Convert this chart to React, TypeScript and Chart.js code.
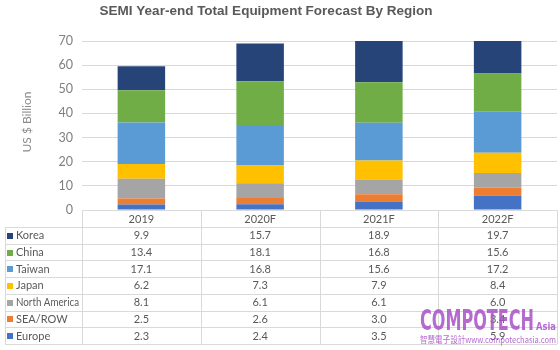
import React, { useEffect, useRef } from "react";
import { Chart, registerables } from "chart.js";

Chart.register(...registerables);

const categories = ["2019", "2020F", "2021F", "2022F"];
const korea = [9.9, 15.7, 18.9, 19.7];
const china = [13.4, 18.1, 16.8, 15.6];
const taiwan = [17.1, 16.8, 15.6, 17.2];
const japan = [6.2, 7.3, 7.9, 8.4];
const northAmerica = [8.1, 6.1, 6.1, 6.0];
const seaRow = [2.5, 2.6, 3.0, 3.4];
const europe = [2.3, 2.4, 3.5, 5.9];

const titleText = "SEMI Year-end Total Equipment Forecast By Region";
const yTitle = "US $ Billion";

// table row order (top to bottom)
const tableRows = [
  { label: "Korea", data: korea, color: "#264478" },
  { label: "China", data: china, color: "#70AD47" },
  { label: "Taiwan", data: taiwan, color: "#5B9BD5" },
  { label: "Japan", data: japan, color: "#FFC000" },
  { label: "North America", data: northAmerica, color: "#A5A5A5" },
  { label: "SEA/ROW", data: seaRow, color: "#ED7D31" },
  { label: "Europe", data: europe, color: "#4472C4" },
];

const TEXT = "#595959";
const GRID = "#d9d9d9";
const TABLE_FONT = "11px Lato, 'Liberation Sans', sans-serif";

const overlayPlugin = {
  id: "overlay",
  afterDraw(chart: any) {
    const ctx = chart.ctx as CanvasRenderingContext2D;
    const area = chart.chartArea;
    const xs = chart.scales.x;
    const n = categories.length;
    const colW = (area.right - area.left) / n;
    ctx.save();
    // title
    ctx.fillStyle = TEXT;
    ctx.font = "bold 13.5px 'Liberation Sans', Arial, sans-serif";
    ctx.textAlign = "center";
    ctx.textBaseline = "middle";
    ctx.fillText(titleText, 266, 11);
    // y title
    ctx.save();
    ctx.translate(27, 122);
    ctx.rotate(-Math.PI / 2);
    ctx.fillStyle = "#8c8c8c";
    ctx.font = "12px Lato, 'Liberation Sans', sans-serif";
    ctx.fillText(yTitle, 0, 0);
    ctx.restore();

    // table
    const top = area.bottom;
    const headH = 17;
    const rowH = 16.7;
    const tableLeft = 5;
    const bottom = top + headH + rowH * tableRows.length;
    ctx.strokeStyle = GRID;
    ctx.lineWidth = 1;
    ctx.beginPath();
    ctx.moveTo(area.left, Math.round(top) + 0.5);
    ctx.lineTo(area.right, Math.round(top) + 0.5);
    for (let r = 0; r <= tableRows.length; r++) {
      const y = Math.round(top + headH + r * rowH) + 0.5;
      ctx.moveTo(tableLeft, y);
      ctx.lineTo(area.right, y);
    }
    for (let i = 0; i <= n; i++) {
      const x = Math.round(area.left + i * colW) + 0.5;
      ctx.moveTo(x, top);
      ctx.lineTo(x, bottom);
    }
    ctx.moveTo(tableLeft + 0.5, top + headH);
    ctx.lineTo(tableLeft + 0.5, bottom);
    ctx.stroke();

    ctx.font = TABLE_FONT;
    ctx.fillStyle = TEXT;
    ctx.textAlign = "center";
    ctx.textBaseline = "middle";
    categories.forEach((c, i) => {
      ctx.fillText(c, xs.getPixelForValue(i), top + headH / 2 + 1);
    });
    tableRows.forEach((row, r) => {
      const cy = top + headH + r * rowH + rowH / 2 + 0.5;
      ctx.fillStyle = row.color;
      ctx.fillRect(7, Math.round(cy - 3), 6, 6);
      ctx.fillStyle = TEXT;
      ctx.textAlign = "left";
      ctx.fillText(row.label, 16, cy, 63);
      ctx.textAlign = "center";
      row.data.forEach((v, i) => {
        ctx.fillText(v.toFixed(1), xs.getPixelForValue(i), cy);
      });
    });

    // watermark
    ctx.fillStyle = "rgba(168, 80, 200, 0.85)";
    ctx.textAlign = "left";
    ctx.textBaseline = "alphabetic";
    ctx.font = "bold 28px 'DejaVu Sans Condensed', 'DejaVu Sans', sans-serif";
    ctx.fillText("COMPOTECH", 420, 330, 114);
    ctx.font = "bold 11px 'DejaVu Sans Condensed', 'DejaVu Sans', sans-serif";
    ctx.fillText("Asia", 536, 330, 20);
    ctx.font = "9px 'Noto Sans CJK TC', 'DejaVu Sans Condensed', sans-serif";
    ctx.fillText("智慧電子設計www.compotechasia.com", 420, 343, 136);
    ctx.restore();
  },
};

export default function App() {
  const ref = useRef<HTMLCanvasElement | null>(null);
  useEffect(() => {
    if (!ref.current) return;
    const stackOrder = [...tableRows].reverse();
    const chart = new Chart(ref.current, {
      type: "bar",
      data: {
        labels: categories,
        datasets: stackOrder.map((r) => ({
          label: r.label,
          data: r.data,
          backgroundColor: r.color,
          borderWidth: 0,
          categoryPercentage: 1,
          barPercentage: 0.4,
        })),
      },
      options: {
        responsive: false,
        animation: false,
        layout: { padding: { top: 41, bottom: 140, left: 0, right: 3 } },
        plugins: {
          legend: { display: false },
          title: { display: false },
          tooltip: { enabled: false },
        },
        scales: {
          x: {
            stacked: true,
            display: false,
          },
          y: {
            stacked: true,
            min: 0,
            max: 70,
            ticks: {
              stepSize: 10,
              color: "#7f7f7f",
              font: { size: 12.5, family: "Lato, 'Liberation Sans', sans-serif" },
              padding: 9,
            },
            grid: { color: GRID, drawTicks: false },
            border: { display: false },
            afterFit: (s: any) => {
              s.width = 82;
            },
          },
        },
      },
      plugins: [overlayPlugin],
    });
    return () => chart.destroy();
  }, []);
  return (
    <div style={{ position: "fixed", left: 0, top: 0, width: 560, height: 350, background: "#fff" }}>
      <canvas ref={ref} width={560} height={350} style={{ display: "block" }} />
    </div>
  );
}
